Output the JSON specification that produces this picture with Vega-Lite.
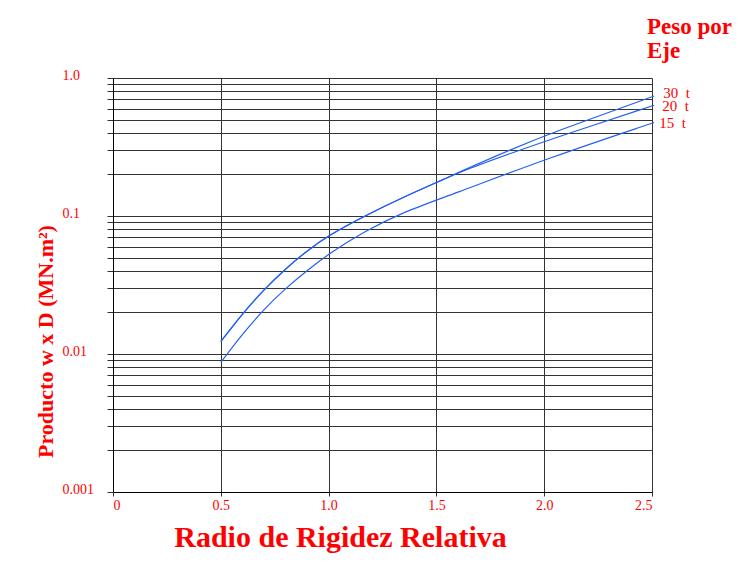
{
  "$schema": "https://vega.github.io/schema/vega-lite/v6.json",
  "width": 539,
  "height": 414,
  "autosize": {"type": "none"},
  "padding": {"left": 113, "top": 78, "right": 87, "bottom": 73},
  "background": "white",
  "title": {
    "text": ["Peso por", "Eje"],
    "anchor": "end",
    "align": "left",
    "dx": -5,
    "baseline": "bottom",
    "offset": -18,
    "fontSize": 23,
    "lineHeight": 24,
    "font": "Liberation Serif",
    "fontWeight": "bold",
    "color": "#ff0000",
    "frame": "group"
  },
  "config": {
    "view": {"stroke": null},
    "axis": {
      "labelColor": "#ff0000",
      "labelFont": "Liberation Serif",
      "labelFontSize": 14,
      "titleColor": "#ff0000",
      "titleFont": "Liberation Serif",
      "titleFontWeight": "bold",
      "gridColor": "#333333",
      "gridOpacity": 1,
      "gridWidth": 1,
      "tickColor": "#333333",
      "domainColor": "#000000",
      "labelOverlap": false,
      "labelBound": false
    }
  },
  "data": {
    "values": [
      {"series": "30\u00a0 t", "x": 0.5, "y": 0.0123},
      {"series": "30\u00a0 t", "x": 0.6, "y": 0.0196},
      {"series": "30\u00a0 t", "x": 0.7, "y": 0.0293},
      {"series": "30\u00a0 t", "x": 0.8, "y": 0.0415},
      {"series": "30\u00a0 t", "x": 0.9, "y": 0.056},
      {"series": "30\u00a0 t", "x": 1.0, "y": 0.0724},
      {"series": "30\u00a0 t", "x": 1.16, "y": 0.099},
      {"series": "30\u00a0 t", "x": 1.35, "y": 0.138},
      {"series": "30\u00a0 t", "x": 1.56, "y": 0.192},
      {"series": "30\u00a0 t", "x": 1.61, "y": 0.21},
      {"series": "30\u00a0 t", "x": 1.86, "y": 0.31},
      {"series": "30\u00a0 t", "x": 2.03, "y": 0.398},
      {"series": "30\u00a0 t", "x": 2.51, "y": 0.74},
      {"series": "20\u00a0 t", "x": 0.5, "y": 0.0123},
      {"series": "20\u00a0 t", "x": 0.6, "y": 0.0196},
      {"series": "20\u00a0 t", "x": 0.7, "y": 0.0293},
      {"series": "20\u00a0 t", "x": 0.8, "y": 0.0415},
      {"series": "20\u00a0 t", "x": 0.9, "y": 0.056},
      {"series": "20\u00a0 t", "x": 1.0, "y": 0.0724},
      {"series": "20\u00a0 t", "x": 1.16, "y": 0.099},
      {"series": "20\u00a0 t", "x": 1.35, "y": 0.138},
      {"series": "20\u00a0 t", "x": 1.56, "y": 0.192},
      {"series": "20\u00a0 t", "x": 1.61, "y": 0.209},
      {"series": "20\u00a0 t", "x": 1.86, "y": 0.29},
      {"series": "20\u00a0 t", "x": 2.03, "y": 0.36},
      {"series": "20\u00a0 t", "x": 2.51, "y": 0.635},
      {"series": "15\u00a0 t", "x": 0.5, "y": 0.0087},
      {"series": "15\u00a0 t", "x": 0.6, "y": 0.01396},
      {"series": "15\u00a0 t", "x": 0.7, "y": 0.0211},
      {"series": "15\u00a0 t", "x": 0.8, "y": 0.0299},
      {"series": "15\u00a0 t", "x": 0.9, "y": 0.0403},
      {"series": "15\u00a0 t", "x": 1.0, "y": 0.0531},
      {"series": "15\u00a0 t", "x": 1.16, "y": 0.0766},
      {"series": "15\u00a0 t", "x": 1.35, "y": 0.1075},
      {"series": "15\u00a0 t", "x": 1.56, "y": 0.1406},
      {"series": "15\u00a0 t", "x": 2.03, "y": 0.267},
      {"series": "15\u00a0 t", "x": 2.51, "y": 0.476}
    ]
  },
  "encoding": {
    "x": {
      "field": "x",
      "type": "quantitative",
      "scale": {"domain": [0, 2.5], "nice": false, "zero": false},
      "axis": {
        "values": [0, 0.5, 1, 1.5, 2, 2.5],
        "labelExpr": "datum.value == 0 ? '0' : format(datum.value, '.1f')",
        "grid": true,
        "tickSize": 4,
        "labelPadding": 2,
        "title": "Radio de Rigidez Relativa",
        "titleFontSize": 30,
        "titleX": 227,
        "titleY": 54,
        "titleBaseline": "alphabetic",
        "titleAlign": "center"
      }
    },
    "y": {
      "field": "y",
      "type": "quantitative",
      "scale": {"type": "log", "domain": [0.001, 1], "nice": false},
      "axis": {
        "values": [0.001, 0.002, 0.003, 0.004, 0.005, 0.006, 0.007, 0.008, 0.009, 0.01, 0.02, 0.03, 0.04, 0.05, 0.06, 0.07, 0.08, 0.09, 0.1, 0.2, 0.3, 0.4, 0.5, 0.6, 0.7, 0.8, 0.9, 1],
        "labelExpr": "datum.value == 1 ? '1.0' : datum.value == 0.1 ? '0.1' : datum.value == 0.01 ? '0.01' : datum.value == 0.001 ? '0.001' : ''",
        "grid": true,
        "tickSize": 6,
        "labelAlign": "left",
        "labelPadding": 45,
        "labelOffset": -3,
        "title": "Producto w x D (MN.m²)",
        "titleFontSize": 22,
        "titleAngle": -90,
        "titleX": -61,
        "titleY": 263,
        "titleBaseline": "alphabetic",
        "titleAlign": "center"
      }
    }
  },
  "layer": [
    {
      "mark": {"type": "line", "color": "#2461f0", "strokeWidth": 1.2, "interpolate": "basis", "clip": false},
      "encoding": {"detail": {"field": "series"}}
    },
    {
      "transform": [{"filter": "datum.x == 2.51 && datum.y == 0.74"}],
      "mark": {"type": "text", "align": "left", "baseline": "middle", "dx": 9, "dy": -3, "font": "Liberation Serif", "fontSize": 15, "color": "#ff0000"},
      "encoding": {"text": {"field": "series"}}
    },
    {
      "transform": [{"filter": "datum.x == 2.51 && datum.y == 0.635"}],
      "mark": {"type": "text", "align": "left", "baseline": "middle", "dx": 8, "dy": 1, "font": "Liberation Serif", "fontSize": 15, "color": "#ff0000"},
      "encoding": {"text": {"field": "series"}}
    },
    {
      "transform": [{"filter": "datum.x == 2.51 && datum.y == 0.476"}],
      "mark": {"type": "text", "align": "left", "baseline": "middle", "dx": 5, "dy": 1, "font": "Liberation Serif", "fontSize": 15, "color": "#ff0000"},
      "encoding": {"text": {"field": "series"}}
    }
  ]
}
